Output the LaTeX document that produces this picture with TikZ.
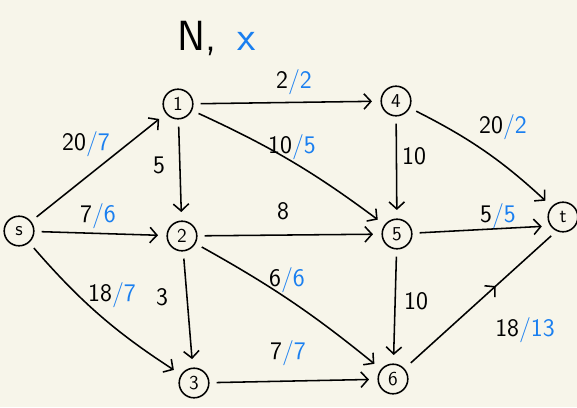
\documentclass[tikz,border=0pt]{standalone}
\usepackage{tikz}
\usetikzlibrary{arrows.meta,positioning,decorations.markings}
\usepackage{xcolor}
\definecolor{paper}{HTML}{F7F5EA}
\definecolor{flowblue}{HTML}{1A7FF0}
\newcommand{\flowlab}[2]{#1\textcolor{flowblue}{/#2}}

\begin{document}
\begin{tikzpicture}[x=0.025cm, y=-0.025cm,
  vtx/.style={draw, circle, line width=1.1pt, minimum size=0.74cm, inner sep=0pt, font=\sffamily\fontsize{14}{16}\selectfont},
  edge/.style={line width=1.1pt, -{Straight Barb[length=5pt,width=11pt]}, shorten <=5pt, shorten >=6pt},
  lab/.style={font=\sffamily\fontsize{18}{20}\selectfont, inner sep=1pt}]
  \fill[paper] (0,0) rectangle (577,407);
  \useasboundingbox (0,0) rectangle (577,407);

  % title
  \node[font=\sffamily\fontsize{30}{32}\selectfont] (title) at (217,38) {N,\enspace\textcolor{flowblue}{x}};

  % vertices
  \node[vtx] (s) at (19,231) {s};
  \node[vtx] (v1) at (178,104) {1};
  \node[vtx] (v2) at (182,236) {2};
  \node[vtx] (v3) at (194,383) {3};
  \node[vtx] (v4) at (396,101) {4};
  \node[vtx] (v5) at (397,234) {5};
  \node[vtx] (v6) at (393,379) {6};
  \node[vtx] (t) at (563,217) {t};

  % edges
  \draw[edge] (s) -- (v1);
  \draw[edge] (s) -- (v2);
  \draw[edge] (s) to[bend right=8] (v3);
  \draw[edge] (v1) -- (v2);
  \draw[edge] (v1) -- (v4);
  \draw[edge] (v1) to[bend left=6] (v5);
  \draw[edge] (v2) -- (v3);
  \draw[edge] (v2) -- (v5);
  \draw[edge] (v2) to[bend left=5] (v6);
  \draw[edge] (v3) -- (v6);
  \draw[edge] (v4) -- (v5);
  \draw[edge] (v4) to[bend left=8] (t);
  \draw[edge] (v5) -- (v6);
  \draw[edge] (v5) -- (t.215);
  \draw[line width=1.1pt, shorten <=6pt, shorten >=5pt,
    postaction={decorate}, decoration={markings,
      mark=at position 0.6 with {\arrow{Straight Barb[length=5pt,width=11pt]}}}]
    (v6) -- (t.245);

  % capacities / flows
  \node[lab] (l-s1) at (86,144) {\flowlab{20}{7}};
  \node[lab] (l-s2) at (98,216) {\flowlab{7}{6}};
  \node[lab] (l-s3) at (112,295) {\flowlab{18}{7}};
  \node[lab] (l-12) at (159,165) {5};
  \node[lab] (l-14) at (294,82) {\flowlab{2}{2}};
  \node[lab] (l-15) at (292,147) {\flowlab{10}{5}};
  \node[lab] (l-23) at (162,297) {3};
  \node[lab] (l-25) at (283,211) {8};
  \node[lab] (l-26) at (287,280) {\flowlab{6}{6}};
  \node[lab] (l-36) at (288,353) {\flowlab{7}{7}};
  \node[lab] (l-45) at (414,156) {10};
  \node[lab] (l-4t) at (503,127) {\flowlab{20}{2}};
  \node[lab] (l-56) at (416,301) {10};
  \node[lab] (l-5t) at (498,216) {\flowlab{5}{5}};
  \node[lab] (l-6t) at (525,330) {\flowlab{18}{13}};
\end{tikzpicture}
\end{document}
